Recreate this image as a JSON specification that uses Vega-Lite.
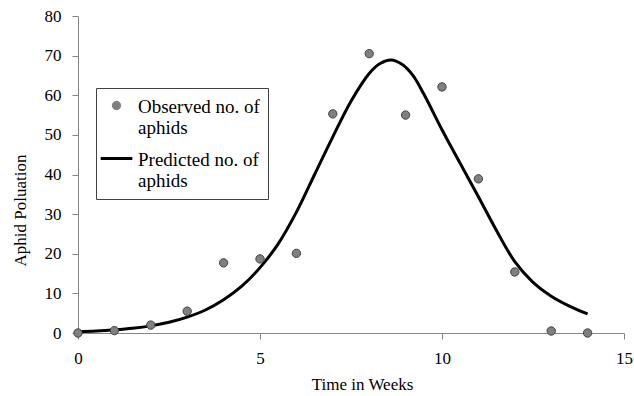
{
  "$schema": "https://vega.github.io/schema/vega-lite/v6.json",
  "width": 546,
  "height": 317,
  "autosize": {"type": "none"},
  "padding": {"left": 78, "top": 16, "right": 10, "bottom": 63},
  "background": "white",
  "config": {"view": {"stroke": null}, "font": "Liberation Serif"},
  "data": {"values": [
    {"week": 0, "count": 0, "series": "Observed"},
    {"week": 1, "count": 0.6, "series": "Observed"},
    {"week": 2, "count": 2.0, "series": "Observed"},
    {"week": 3, "count": 5.5, "series": "Observed"},
    {"week": 4, "count": 17.7, "series": "Observed"},
    {"week": 5, "count": 18.7, "series": "Observed"},
    {"week": 6, "count": 20.1, "series": "Observed"},
    {"week": 7, "count": 55.3, "series": "Observed"},
    {"week": 8, "count": 70.5, "series": "Observed"},
    {"week": 9, "count": 55.0, "series": "Observed"},
    {"week": 10, "count": 62.1, "series": "Observed"},
    {"week": 11, "count": 38.9, "series": "Observed"},
    {"week": 12, "count": 15.4, "series": "Observed"},
    {"week": 13, "count": 0.5, "series": "Observed"},
    {"week": 14, "count": 0, "series": "Observed"},
    {"week": 0, "count": 0.3, "series": "Predicted"},
    {"week": 0.5, "count": 0.5, "series": "Predicted"},
    {"week": 1, "count": 0.8, "series": "Predicted"},
    {"week": 1.5, "count": 1.2, "series": "Predicted"},
    {"week": 2, "count": 1.8, "series": "Predicted"},
    {"week": 2.5, "count": 2.7, "series": "Predicted"},
    {"week": 3, "count": 4.0, "series": "Predicted"},
    {"week": 3.5, "count": 5.8, "series": "Predicted"},
    {"week": 4, "count": 8.4, "series": "Predicted"},
    {"week": 4.5, "count": 11.8, "series": "Predicted"},
    {"week": 5, "count": 16.5, "series": "Predicted"},
    {"week": 5.5, "count": 22.5, "series": "Predicted"},
    {"week": 6, "count": 30.5, "series": "Predicted"},
    {"week": 6.5, "count": 40.0, "series": "Predicted"},
    {"week": 7, "count": 49.5, "series": "Predicted"},
    {"week": 7.5, "count": 58.5, "series": "Predicted"},
    {"week": 8, "count": 65.5, "series": "Predicted"},
    {"week": 8.3, "count": 68.0, "series": "Predicted"},
    {"week": 8.6, "count": 68.9, "series": "Predicted"},
    {"week": 8.9, "count": 67.8, "series": "Predicted"},
    {"week": 9.2, "count": 65.0, "series": "Predicted"},
    {"week": 9.5, "count": 60.3, "series": "Predicted"},
    {"week": 10, "count": 51.3, "series": "Predicted"},
    {"week": 10.5, "count": 42.8, "series": "Predicted"},
    {"week": 11, "count": 34.4, "series": "Predicted"},
    {"week": 11.5, "count": 25.8, "series": "Predicted"},
    {"week": 12, "count": 18.0, "series": "Predicted"},
    {"week": 12.5, "count": 12.8, "series": "Predicted"},
    {"week": 13, "count": 9.3, "series": "Predicted"},
    {"week": 13.5, "count": 6.8, "series": "Predicted"},
    {"week": 14, "count": 4.8, "series": "Predicted"}
  ]},
  "encoding": {
    "x": {
      "field": "week", "type": "quantitative",
      "scale": {"domain": [0, 15], "nice": false, "zero": false},
      "axis": {
        "title": "Time in Weeks", "values": [0, 5, 10, 15], "grid": false, "labelFlush": false,
        "domainColor": "#868686", "tickColor": "#868686", "tickSize": 6,
        "labelFont": "Liberation Serif", "labelFontSize": 17, "labelColor": "#000000", "labelPadding": 11,
        "titleFont": "Liberation Serif", "titleFontSize": 17, "titleFontWeight": "normal", "titleColor": "#000000",
        "titleX": 284, "titleY": 56, "titleBaseline": "alphabetic", "titleAlign": "center"
      }
    },
    "y": {
      "field": "count", "type": "quantitative",
      "scale": {"domain": [0, 80], "nice": false},
      "axis": {
        "title": "Aphid Poluation", "values": [0, 10, 20, 30, 40, 50, 60, 70, 80], "grid": false, "labelFlush": false,
        "domainColor": "#868686", "tickColor": "#868686", "tickSize": 6,
        "labelFont": "Liberation Serif", "labelFontSize": 17, "labelColor": "#000000", "labelPadding": 11,
        "titleFont": "Liberation Serif", "titleFontSize": 17, "titleFontWeight": "normal", "titleColor": "#000000",
        "titleX": -58, "titleY": 194, "titleBaseline": "middle", "titleAlign": "center", "titleAngle": -90
      }
    },
    "color": {
      "field": "series", "type": "nominal",
      "scale": {"domain": ["Observed", "Predicted"], "range": ["#808080", "#000000"]},
      "legend": {
        "orient": "none", "legendX": 18, "legendY": 72, "title": null,
        "strokeColor": "#404040", "fillColor": "#ffffff", "padding": 8,
        "labelFont": "Liberation Serif", "labelFontSize": 19, "labelColor": "#000000",
        "symbolSize": 1000, "symbolOffset": 3, "labelOffset": 12, "rowPadding": 11,
        "labelExpr": "datum.label == 'Observed' ? ['Observed no. of', 'aphids'] : ['Predicted no. of', 'aphids']",
        "encode": {
          "symbols": {"update": {
            "shape": {"signal": "datum.value === 'Observed' ? 'circle' : 'stroke'"},
            "size": {"signal": "datum.value === 'Observed' ? 70 : 1000"},
            "fill": {"signal": "datum.value === 'Observed' ? '#808080' : 'transparent'"},
            "stroke": {"signal": "datum.value === 'Observed' ? '#404040' : '#000000'"},
            "strokeWidth": {"signal": "datum.value === 'Observed' ? 1 : 3"},
            "opacity": {"value": 1},
            "fillOpacity": {"value": 1},
            "strokeOpacity": {"value": 1}
          }},
          "labels": {"update": {"lineHeight": {"value": 21}, "dy": {"value": 1}}}
        }
      }
    }
  },
  "layer": [
    {
      "transform": [{"filter": "datum.series === 'Predicted'"}],
      "mark": {"type": "line", "strokeWidth": 3, "interpolate": "catmull-rom"}
    },
    {
      "transform": [{"filter": "datum.series === 'Observed'"}],
      "mark": {"type": "point", "filled": true, "size": 70, "stroke": "#404040", "strokeWidth": 1, "opacity": 1}
    }
  ]
}
